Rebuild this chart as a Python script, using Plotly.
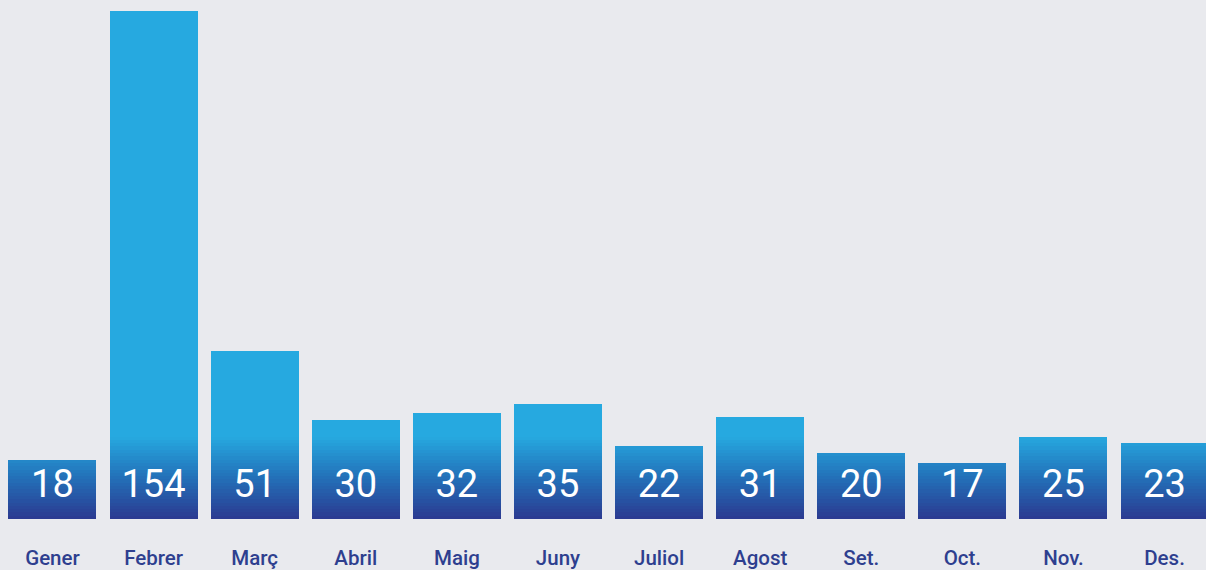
import plotly.graph_objects as go

months = ["Gener", "Febrer", "Març", "Abril", "Maig", "Juny", "Juliol",
          "Agost", "Set.", "Oct.", "Nov.", "Des."]
values = [18, 154, 51, 30, 32, 35, 22, 31, 20, 17, 25, 23]

BG = "#e9eaee"
LIGHT = (38, 169, 224)
MID = (35, 112, 184)
DARK = (43, 57, 144)
GRAD_TOP = 25.0  # value height at which gradient reaches the light colour
STEPS = 25


def lerp(a, b, t):
    return tuple(int(round(a[i] + (b[i] - a[i]) * t)) for i in range(3))


def grad_color(t):
    if t < 0.5:
        c = lerp(DARK, MID, t / 0.5)
    else:
        c = lerp(MID, LIGHT, (t - 0.5) / 0.5)
    return "rgb(%d,%d,%d)" % c


fig = go.Figure()
step = GRAD_TOP / STEPS
for k in range(STEPS):
    lo = k * step
    hi = lo + step
    seg = [max(0.0, min(v, hi) - lo) for v in values]
    fig.add_trace(go.Bar(
        x=months, y=seg, base=[lo] * len(values),
        marker=dict(color=grad_color((k + 0.5) / STEPS), line=dict(width=0)),
        width=0.87, hoverinfo="skip", showlegend=False))

fig.add_trace(go.Bar(
    x=months, y=[max(0.0, v - GRAD_TOP) for v in values],
    base=[GRAD_TOP] * len(values),
    marker=dict(color="rgb(%d,%d,%d)" % LIGHT, line=dict(width=0)),
    width=0.87, hoverinfo="skip", showlegend=False))

fig.add_trace(go.Scatter(
    x=months, y=[9.4] * len(values), mode="text",
    text=[str(v) for v in values],
    textfont=dict(family="Roboto", size=38, color="white"),
    hoverinfo="skip", showlegend=False))

fig.update_layout(
    width=1206, height=570,
    margin=dict(l=0, r=0, t=0, b=51),
    paper_bgcolor=BG, plot_bgcolor=BG,
    barmode="overlay", bargap=0,
)
fig.update_xaxes(
    type="category", range=[-0.519, 11.41],
    showgrid=False, zeroline=False, showline=False,
    ticks="outside", ticklen=20, tickcolor=BG,
    tickfont=dict(family="Roboto", size=20.5, color="#2e3f8f", weight=500),
)
fig.update_yaxes(
    range=[0, 157.3], visible=False, showgrid=False, zeroline=False,
)

fig.write_html("out.html", config={"displayModeBar": False},
               post_script="document.body.style.margin='0';document.body.style.background='%s';" % BG)
